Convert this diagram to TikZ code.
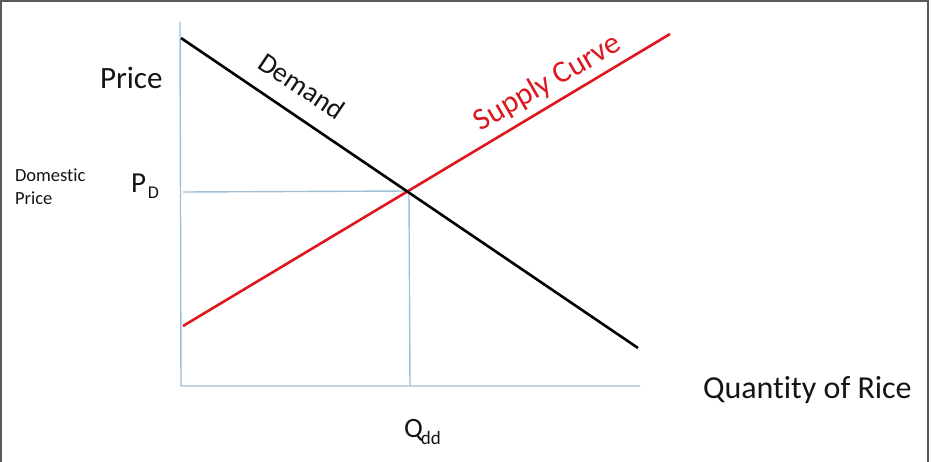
\documentclass[tikz,border=0pt]{standalone}
\usepackage{fontspec}
\setmainfont{Carlito}[Ligatures=NoCommon]
\definecolor{axisblue}{RGB}{160,192,215}
\definecolor{supplyred}{RGB}{222,22,30}
\definecolor{framegray}{RGB}{90,90,90}
\definecolor{txt}{RGB}{20,20,20}
\begin{document}
\begin{tikzpicture}[x=1pt,y=-1pt,
  axisline/.style={draw=axisblue,line width=1.4pt},
  demandline/.style={draw=black,line width=2.6pt},
  supplyline/.style={draw=supplyred,line width=2.6pt},
  lbl/.style={inner sep=0pt,outer sep=0pt,text=txt,anchor=base west}]
\useasboundingbox (0,0) rectangle (932,462);
% frame (top, left, right sides visible)
\draw[framegray,line width=1.5pt] (1,462) -- (1,1) -- (928,1) -- (928,462);
% coordinates
\coordinate (ytop) at (180,22);
\coordinate (orig) at (181,386);
\coordinate (xend) at (640,386);
\coordinate (dA) at (181,38);
\coordinate (dB) at (638,348);
\coordinate (sA) at (183,326);
\coordinate (sB) at (670,34);
\coordinate (eq) at (409,191);
\coordinate (pd) at (183,192);
\coordinate (qd) at (410,386);
% axes
\draw[axisline] (ytop) -- (orig) -- (xend);
\draw[axisline] (pd) -- (eq) -- (qd);
% curves
\draw[supplyline] (sA) -- (sB);
\draw[demandline] (dA) -- (dB);
% labels
\node[lbl] (price) at (100,89) {\fontsize{31}{31}\selectfont Price};
\node[lbl] (dom1) at (15,182) {\fontsize{18.5}{18}\selectfont Domestic};
\node[lbl] (dom2) at (15,205) {\fontsize{18.5}{18}\selectfont Price};
\node[lbl] (pdl) at (131,193) {\fontsize{29}{29}\selectfont P\hspace{2pt}\raisebox{-6pt}{\fontsize{18}{18}\selectfont D}};
\node[lbl] (qdd) at (404,437) {\fontsize{28}{28}\selectfont Q\hspace{-2pt}\raisebox{-7pt}{\fontsize{19}{19}\selectfont dd}};
\node[lbl] (qty) at (703,398) {\fontsize{32}{32}\selectfont Quantity of Rice};
\node[inner sep=0pt,text=txt,rotate=-34] (dem) at (302,86) {\fontsize{28}{28}\selectfont Demand};
\node[inner sep=0pt,text=supplyred,rotate=30] (sup) at (548,83) {\fontsize{31}{31}\selectfont Supply Curve};
\end{tikzpicture}
\end{document}
